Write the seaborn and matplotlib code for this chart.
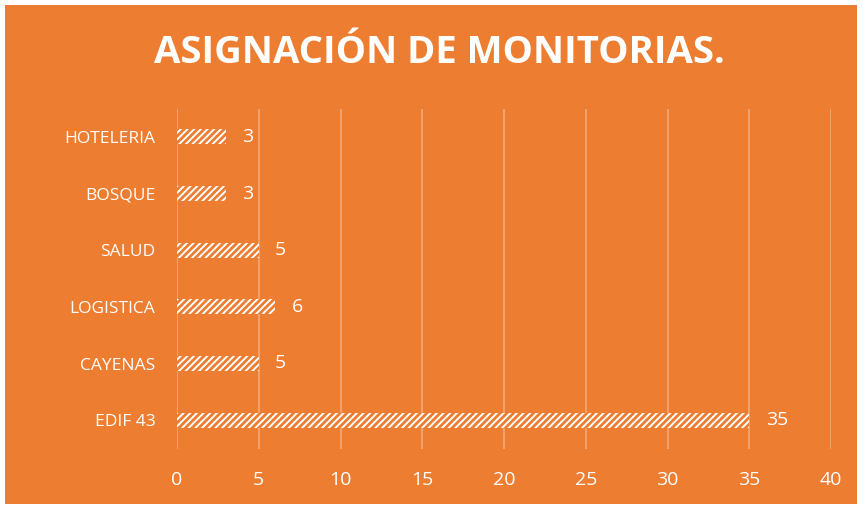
import matplotlib
matplotlib.use("Agg")
import matplotlib.pyplot as plt
import seaborn as sns
import pandas as pd
from matplotlib.patches import Rectangle

categories = ["HOTELERIA", "BOSQUE", "SALUD", "LOGISTICA", "CAYENAS", "EDIF 43"]
values = [3, 3, 5, 6, 5, 35]
xticks = [0, 5, 10, 15, 20, 25, 30, 35, 40]

ORANGE = "#ED7D31"
GRID = "#F3A977"

sns.set_theme(style="white")
plt.rcParams["font.family"] = ["Open Sans", "DejaVu Sans"]
plt.rcParams["hatch.linewidth"] = 2.0
plt.rcParams["hatch.color"] = ORANGE

W, H = 863, 508
fig = plt.figure(figsize=(W / 100, H / 100), dpi=100, facecolor="white")
fig.patches.append(Rectangle((5 / W, 4 / H), 852 / W, 499 / H, transform=fig.transFigure,
                             facecolor=ORANGE, edgecolor="none", zorder=-10))

ax = fig.add_axes([177 / W, 1 - 448.5 / H, (831 - 177) / W, (448.5 - 108.5) / H])
ax.set_facecolor("none")

df = pd.DataFrame({"cat": categories, "val": values})
sns.barplot(data=df, x="val", y="cat", orient="h", ax=ax, color="white",
            width=0.27, saturation=1, edgecolor=ORANGE, linewidth=0, zorder=3)
for p in ax.patches:
    p.set_hatch("/////")
    p.set_facecolor("white")
    p.set_edgecolor(ORANGE)
    p.set_linewidth(0)

for i, v in enumerate(values):
    ax.text(v + 1.0, i, str(v), va="center", ha="left", color="white", fontsize=14)

ax.set_xlim(0, 40)
ax.set_ylim(len(categories) - 0.5, -0.5)
ax.set_xticks(xticks)
ax.set_xticklabels([str(t) for t in xticks])
ax.tick_params(axis="x", colors="white", labelsize=14, length=0, pad=16)
ax.tick_params(axis="y", colors="white", labelsize=12.5, length=0, pad=15.5)
ax.grid(axis="x", color=GRID, linewidth=1.2, zorder=0)
ax.grid(axis="y", visible=False)
for s in ax.spines.values():
    s.set_visible(False)
ax.set_xlabel("")
ax.set_ylabel("")

fig.text(439 / W, 1 - 53 / H, "ASIGNACIÓN DE MONITORIAS.", ha="center", va="center",
         color="white", fontsize=27.5, fontweight="bold")

fig.savefig("out.png", dpi=100, facecolor="white")
